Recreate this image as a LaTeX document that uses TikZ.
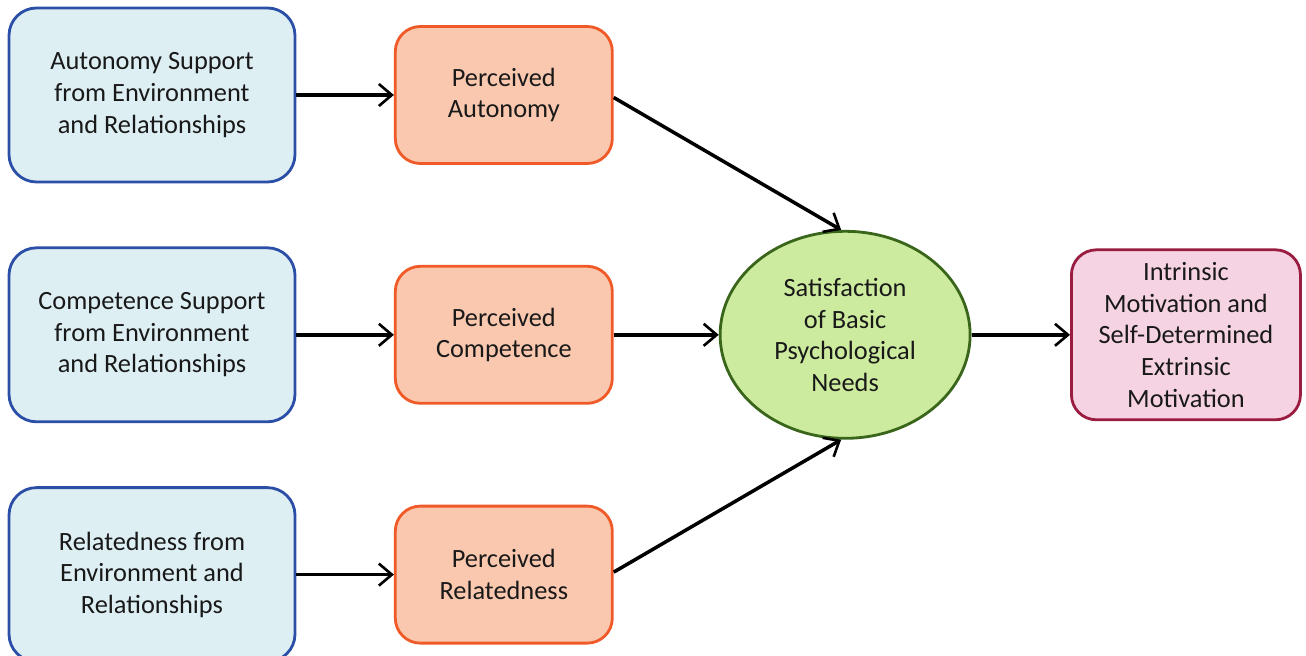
\documentclass[tikz,border=0pt]{standalone}
\usepackage{fontspec}
\setmainfont{Carlito}
\usepackage{xcolor}
\usepackage{tikz}
\usetikzlibrary{shapes.geometric, arrows.meta, positioning, calc}

\definecolor{supportline}{HTML}{2B4FA6}
\definecolor{supportfill}{HTML}{DDEFF3}
\definecolor{perceivedline}{HTML}{F05A28}
\definecolor{perceivedfill}{HTML}{F9C8AE}
\definecolor{needline}{HTML}{3A661C}
\definecolor{needfill}{HTML}{CDEB9E}
\definecolor{outcomeline}{HTML}{9A1C40}
\definecolor{outcomefill}{HTML}{F5D3E2}

\begin{document}
\begin{tikzpicture}[
    every node/.style={font=\fontsize{15}{18}\selectfont, align=center, text=black!90},
    support/.style={rectangle, draw=supportline, fill=supportfill, line width=1.6pt,
                    minimum width=5.72cm, minimum height=3.48cm, rounded corners=0.55cm},
    perceived/.style={rectangle, draw=perceivedline, fill=perceivedfill, line width=1.6pt,
                      minimum width=4.34cm, minimum height=2.74cm, rounded corners=0.5cm},
    need/.style={ellipse, draw=needline, fill=needfill, line width=1.6pt,
                 minimum width=5cm, minimum height=4.14cm, inner sep=0pt},
    outcome/.style={rectangle, draw=outcomeline, fill=outcomefill, line width=1.6pt,
                    minimum width=4.58cm, minimum height=3.4cm, rounded corners=0.5cm},
    arrow/.style={-{Straight Barb[length=2.6mm, width=4.4mm, line width=1.5pt]}, line width=2pt}
]
\useasboundingbox (0,0) rectangle (26.12,-13.1);

\node (autsup)  [support] at (3.04,-1.9)
    {Autonomy Support\\from Environment\\and Relationships};
\node (compsup) [support, below=1.26cm of autsup]
    {Competence Support\\from Environment\\and Relationships};
\node (relsup)  [support, below=1.26cm of compsup]
    {Relatedness from\\Environment and\\Relationships};

\node (paut)  [perceived, right=1.95cm of autsup]  {Perceived\\Autonomy};
\node (pcomp) [perceived, right=1.95cm of compsup] {Perceived\\Competence};
\node (prel)  [perceived, right=1.95cm of relsup]  {Perceived\\Relatedness};

\node (sat) [need, right=2.1cm of pcomp]
    {Satisfaction\\of Basic\\Psychological\\Needs};
\node (motiv) [outcome, right=1.97cm of sat]
    {Intrinsic\\Motivation and\\Self-Determined\\Extrinsic\\Motivation};

\draw [arrow] (autsup) -- (paut);
\draw [arrow] (compsup) -- (pcomp);
\draw [arrow] (relsup) -- (prel);
\draw [arrow] ([yshift=-0.05cm]paut.east) -- ([xshift=-0.08cm]sat.north);
\draw [arrow] (pcomp) -- (sat);
\draw [arrow] ([yshift=0.05cm]prel.east) -- ([xshift=-0.08cm]sat.south);
\draw [arrow] (sat) -- (motiv);
\end{tikzpicture}
\end{document}
